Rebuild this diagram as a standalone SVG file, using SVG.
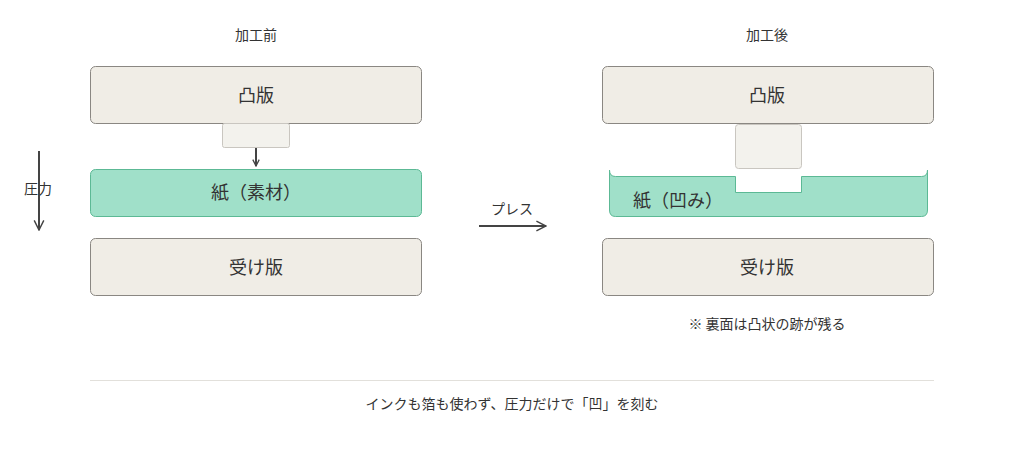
<svg xmlns="http://www.w3.org/2000/svg" width="1024" height="453" viewBox="0 0 1024 453">
<defs>
<style>
text{font-family:"Noto Sans CJK JP","Noto Sans",sans-serif;fill:#333;text-anchor:middle}
.plate{fill:#f0ede6;stroke:#8a8782;stroke-width:1}
.die{fill:#f3f2ed;stroke:#c9c6c0;stroke-width:1}
.paper{fill:#a0e0c9;stroke:#5cb995;stroke-width:1}
.ln{stroke:#444;stroke-width:2;fill:none}
.t18{font-size:18px}
.t14{font-size:14px}
</style>
<marker id="ah" viewBox="0 0 10 10" refX="9" refY="5" markerWidth="8" markerHeight="8" markerUnits="userSpaceOnUse" orient="auto"><path d="M1,1 L9,5 L1,9" fill="none" stroke="#444" stroke-width="1.6"/></marker>
<marker id="ah2" viewBox="0 0 10 10" refX="9" refY="5" markerWidth="12" markerHeight="12" markerUnits="userSpaceOnUse" orient="auto"><path d="M1,1 L9,5 L1,9" fill="none" stroke="#444" stroke-width="1.2"/></marker>
</defs>
<rect width="1024" height="453" fill="#fff"/>
<text x="256" y="40" class="t14">加工前</text>
<text x="767" y="40" class="t14">加工後</text>
<g id="left-top"><rect class="plate" x="90.5" y="66.5" width="331" height="57" rx="5"/><text x="256" y="102" class="t18">凸版</text></g>
<g id="left-die"><rect class="die" x="222.5" y="123.5" width="67" height="24" rx="2"/></g>
<g id="left-paper"><rect class="paper" x="90.5" y="169.5" width="331" height="47" rx="5"/><text x="256" y="199" class="t18">紙（素材）</text></g>
<g id="left-bottom"><rect class="plate" x="90.5" y="238.5" width="331" height="57" rx="5"/><text x="256" y="274" class="t18">受け版</text></g>
<g id="pressure-label"><text x="38" y="194" class="t14">圧力</text></g>
<g id="right-top"><rect class="plate" x="602.5" y="66.5" width="331" height="57" rx="5"/><text x="767" y="102" class="t18">凸版</text></g>
<g id="right-die"><rect class="die" x="735.5" y="124.5" width="66" height="44" rx="3"/></g>
<g id="right-paper"><path class="paper" d="M609.5,170 L609.5,210 Q609.5,216.5 615.5,216.5 L921.5,216.5 Q927.5,216.5 927.5,210 L927.5,170 Q927.5,176.5 921.5,176.5 L801.5,176.5 L801.5,192.5 L735.5,192.5 L735.5,176.5 L615.5,176.5 Q609.5,176.5 609.5,170 Z"/><text x="633" y="207" class="t18" style="text-anchor:start">紙（凹み）</text></g>
<g id="right-bottom"><rect class="plate" x="602.5" y="238.5" width="331" height="57" rx="5"/><text x="767" y="274" class="t18">受け版</text></g>
<g id="note"><text x="767" y="329" class="t14">※ 裏面は凸状の跡が残る</text></g>
<g id="press-label"><text x="512" y="214" class="t14">プレス</text></g>
<g id="connectors">
<line class="ln" x1="256" y1="148" x2="256" y2="166" marker-end="url(#ah)" stroke-width="1.6"/>
<line class="ln" x1="39" y1="151" x2="39" y2="230" marker-end="url(#ah2)"/>
<line class="ln" x1="479" y1="226" x2="546" y2="226" marker-end="url(#ah2)" stroke-width="1.6"/>
</g>
<line x1="90" y1="380.5" x2="934" y2="380.5" stroke="#e2e0db" stroke-width="1"/>
<text x="512" y="409" class="t14">インクも箔も使わず、圧力だけで「凹」を刻む</text>
</svg>
